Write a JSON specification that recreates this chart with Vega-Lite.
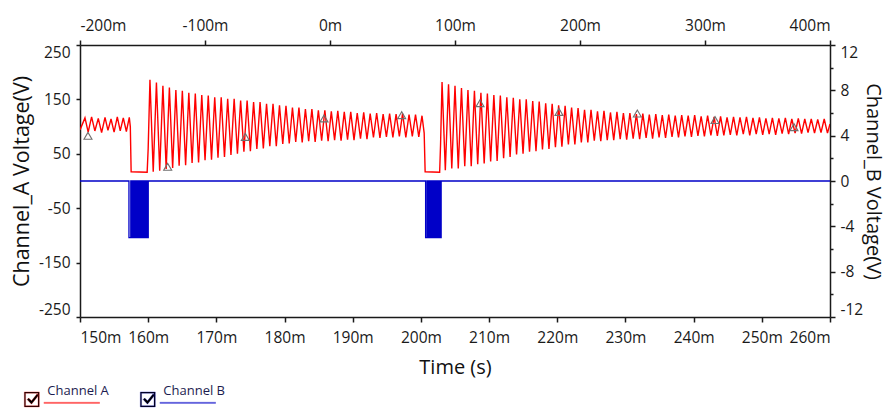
{
  "$schema": "https://vega.github.io/schema/vega-lite/v6.json",
  "width": 750,
  "height": 272,
  "autosize": {"type": "none"},
  "padding": {"left": 80, "top": 45, "right": 59, "bottom": 101},
  "background": "white",
  "config": {
    "view": {"stroke": null},
    "font": "Open Sans",
    "axis": {
      "labelFont": "Open Sans", "labelFontSize": 15.5, "labelColor": "#1a1a1a",
      "titleFont": "Open Sans", "titleFontSize": 20, "titleFontWeight": "normal", "titleColor": "#111111",
      "domainColor": "#1a1a1a", "domainWidth": 1.5, "tickColor": "#1a1a1a", "tickWidth": 1.5,
      "grid": false, "labelOverlap": false, "labelFlush": true
    }
  },
  "datasets": {
    "channel_a": [
      {"time_ms":150.0,"voltage":94},{"time_ms":150.73,"voltage":116},{"time_ms":151.2,"voltage":90},{"time_ms":151.7,"voltage":118},
      {"time_ms":152.18,"voltage":92},{"time_ms":152.68,"voltage":115},{"time_ms":153.17,"voltage":89},{"time_ms":153.67,"voltage":117},
      {"time_ms":154.1,"voltage":93},{"time_ms":154.55,"voltage":114},{"time_ms":155.0,"voltage":90},{"time_ms":155.47,"voltage":118},
      {"time_ms":155.9,"voltage":92},{"time_ms":156.35,"voltage":116},{"time_ms":156.8,"voltage":91},{"time_ms":157.23,"voltage":117},
      {"time_ms":157.38,"voltage":100},{"time_ms":157.5,"voltage":17},{"time_ms":159.85,"voltage":16},{"time_ms":160.0,"voltage":60},
      {"time_ms":160.26,"voltage":186},
      {"time_ms":160.74,"voltage":17},{"time_ms":161.21,"voltage":181},{"time_ms":161.69,"voltage":19},{"time_ms":162.16,"voltage":175},
      {"time_ms":162.64,"voltage":22},{"time_ms":163.11,"voltage":172},{"time_ms":163.59,"voltage":24},{"time_ms":164.06,"voltage":167},
      {"time_ms":164.54,"voltage":28},{"time_ms":165.01,"voltage":166},{"time_ms":165.49,"voltage":29},{"time_ms":165.96,"voltage":162},
      {"time_ms":166.44,"voltage":33},{"time_ms":166.91,"voltage":161},{"time_ms":167.39,"voltage":34},{"time_ms":167.86,"voltage":158},
      {"time_ms":168.34,"voltage":38},{"time_ms":168.81,"voltage":157},{"time_ms":169.29,"voltage":39},{"time_ms":169.76,"voltage":154},
      {"time_ms":170.24,"voltage":43},{"time_ms":170.71,"voltage":154},{"time_ms":171.19,"voltage":44},{"time_ms":171.66,"voltage":151},
      {"time_ms":172.14,"voltage":48},{"time_ms":172.61,"voltage":151},{"time_ms":173.09,"voltage":50},{"time_ms":173.56,"voltage":148},
      {"time_ms":174.04,"voltage":54},{"time_ms":174.51,"voltage":148},{"time_ms":174.99,"voltage":55},{"time_ms":175.46,"voltage":145},
      {"time_ms":175.94,"voltage":59},{"time_ms":176.41,"voltage":145},{"time_ms":176.89,"voltage":60},{"time_ms":177.36,"voltage":142},
      {"time_ms":177.84,"voltage":64},{"time_ms":178.31,"voltage":142},{"time_ms":178.79,"voltage":64},{"time_ms":179.26,"voltage":139},
      {"time_ms":179.74,"voltage":68},{"time_ms":180.21,"voltage":138},{"time_ms":180.69,"voltage":69},{"time_ms":181.16,"voltage":135},
      {"time_ms":181.64,"voltage":72},{"time_ms":182.11,"voltage":135},{"time_ms":182.59,"voltage":71},{"time_ms":183.06,"voltage":132},
      {"time_ms":183.54,"voltage":73},{"time_ms":184.01,"voltage":132},{"time_ms":184.49,"voltage":72},{"time_ms":184.96,"voltage":130},
      {"time_ms":185.44,"voltage":74},{"time_ms":185.91,"voltage":130},{"time_ms":186.39,"voltage":73},{"time_ms":186.86,"voltage":128},
      {"time_ms":187.34,"voltage":75},{"time_ms":187.81,"voltage":129},{"time_ms":188.29,"voltage":74},{"time_ms":188.76,"voltage":127},
      {"time_ms":189.24,"voltage":76},{"time_ms":189.71,"voltage":127},{"time_ms":190.19,"voltage":75},{"time_ms":190.66,"voltage":125},
      {"time_ms":191.14,"voltage":78},{"time_ms":191.61,"voltage":126},{"time_ms":192.09,"voltage":77},{"time_ms":192.56,"voltage":124},
      {"time_ms":193.04,"voltage":80},{"time_ms":193.51,"voltage":125},{"time_ms":193.99,"voltage":79},{"time_ms":194.46,"voltage":123},
      {"time_ms":194.94,"voltage":81},{"time_ms":195.41,"voltage":124},{"time_ms":195.89,"voltage":80},{"time_ms":196.36,"voltage":123},
      {"time_ms":196.84,"voltage":82},{"time_ms":197.31,"voltage":124},{"time_ms":197.79,"voltage":80},{"time_ms":198.26,"voltage":122},
      {"time_ms":198.74,"voltage":82},{"time_ms":199.21,"voltage":122},{"time_ms":199.69,"voltage":81},{"time_ms":200.16,"voltage":120},
      {"time_ms":200.48,"voltage":88},{"time_ms":200.62,"voltage":17},{"time_ms":202.75,"voltage":16},{"time_ms":202.88,"voltage":66},
      {"time_ms":203.1,"voltage":182},
      {"time_ms":203.58,"voltage":20},{"time_ms":204.05,"voltage":178},{"time_ms":204.53,"voltage":23},{"time_ms":205.0,"voltage":175},
      {"time_ms":205.48,"voltage":23},{"time_ms":205.95,"voltage":171},{"time_ms":206.43,"voltage":27},{"time_ms":206.9,"voltage":167},
      {"time_ms":207.38,"voltage":27},{"time_ms":207.85,"voltage":166},{"time_ms":208.33,"voltage":31},{"time_ms":208.8,"voltage":162},
      {"time_ms":209.28,"voltage":32},{"time_ms":209.75,"voltage":161},{"time_ms":210.23,"voltage":36},{"time_ms":210.7,"voltage":158},
      {"time_ms":211.18,"voltage":37},{"time_ms":211.65,"voltage":157},{"time_ms":212.13,"voltage":42},{"time_ms":212.6,"voltage":154},
      {"time_ms":213.08,"voltage":44},{"time_ms":213.55,"voltage":153},{"time_ms":214.03,"voltage":49},{"time_ms":214.5,"voltage":150},
      {"time_ms":214.98,"voltage":50},{"time_ms":215.45,"voltage":150},{"time_ms":215.93,"voltage":54},{"time_ms":216.4,"voltage":147},
      {"time_ms":216.88,"voltage":55},{"time_ms":217.35,"voltage":146},{"time_ms":217.83,"voltage":58},{"time_ms":218.3,"voltage":143},
      {"time_ms":218.78,"voltage":59},{"time_ms":219.25,"voltage":142},{"time_ms":219.73,"voltage":62},{"time_ms":220.2,"voltage":139},
      {"time_ms":220.68,"voltage":63},{"time_ms":221.15,"voltage":138},{"time_ms":221.63,"voltage":67},{"time_ms":222.1,"voltage":135},
      {"time_ms":222.58,"voltage":67},{"time_ms":223.05,"voltage":134},{"time_ms":223.53,"voltage":71},{"time_ms":224.0,"voltage":131},
      {"time_ms":224.48,"voltage":71},{"time_ms":224.95,"voltage":131},{"time_ms":225.43,"voltage":74},{"time_ms":225.9,"voltage":128},
      {"time_ms":226.38,"voltage":73},{"time_ms":226.85,"voltage":129},{"time_ms":227.33,"voltage":75},{"time_ms":227.8,"voltage":126},
      {"time_ms":228.28,"voltage":75},{"time_ms":228.75,"voltage":127},{"time_ms":229.23,"voltage":77},{"time_ms":229.7,"voltage":125},
      {"time_ms":230.18,"voltage":76},{"time_ms":230.65,"voltage":125},{"time_ms":231.13,"voltage":78},{"time_ms":231.6,"voltage":123},
      {"time_ms":232.08,"voltage":77},{"time_ms":232.55,"voltage":124},{"time_ms":233.03,"voltage":79},{"time_ms":233.5,"voltage":122},
      {"time_ms":233.98,"voltage":78},{"time_ms":234.45,"voltage":123},{"time_ms":234.93,"voltage":80},{"time_ms":235.4,"voltage":121},
      {"time_ms":235.88,"voltage":79},{"time_ms":236.35,"voltage":122},{"time_ms":236.83,"voltage":81},{"time_ms":237.3,"voltage":120},
      {"time_ms":237.78,"voltage":80},{"time_ms":238.25,"voltage":121},{"time_ms":238.73,"voltage":82},{"time_ms":239.2,"voltage":120},
      {"time_ms":239.68,"voltage":81},{"time_ms":240.15,"voltage":121},{"time_ms":240.63,"voltage":83},{"time_ms":241.1,"voltage":119},
      {"time_ms":241.58,"voltage":82},{"time_ms":242.05,"voltage":120},{"time_ms":242.53,"voltage":84},{"time_ms":243.0,"voltage":118},
      {"time_ms":243.48,"voltage":83},{"time_ms":243.95,"voltage":119},{"time_ms":244.43,"voltage":84},{"time_ms":244.9,"voltage":117},
      {"time_ms":245.38,"voltage":85},{"time_ms":245.85,"voltage":118},{"time_ms":246.33,"voltage":84},{"time_ms":246.8,"voltage":117},
      {"time_ms":247.28,"voltage":86},{"time_ms":247.75,"voltage":118},{"time_ms":248.23,"voltage":84},{"time_ms":248.7,"voltage":116},
      {"time_ms":249.18,"voltage":86},{"time_ms":249.65,"voltage":117},{"time_ms":250.13,"voltage":85},{"time_ms":250.6,"voltage":115},
      {"time_ms":251.08,"voltage":86},{"time_ms":251.55,"voltage":116},{"time_ms":252.03,"voltage":85},{"time_ms":252.5,"voltage":115},
      {"time_ms":252.98,"voltage":87},{"time_ms":253.45,"voltage":116},{"time_ms":253.93,"voltage":86},{"time_ms":254.4,"voltage":114},
      {"time_ms":254.88,"voltage":88},{"time_ms":255.35,"voltage":115},{"time_ms":255.83,"voltage":87},{"time_ms":256.3,"voltage":114},
      {"time_ms":256.78,"voltage":89},{"time_ms":257.25,"voltage":114},{"time_ms":257.73,"voltage":88},{"time_ms":258.2,"voltage":113},
      {"time_ms":258.68,"voltage":89},{"time_ms":259.15,"voltage":114},{"time_ms":259.63,"voltage":88},{"time_ms":260.0,"voltage":105}
    ],
    "channel_b": [
      {"time_ms":150.0,"voltage":0},{"time_ms":157.18,"voltage":0},{"time_ms":157.18,"voltage":-5},{"time_ms":157.45,"voltage":-5},{"time_ms":157.45,"voltage":0},
      {"time_ms":157.53,"voltage":0},{"time_ms":157.53,"voltage":-5},{"time_ms":157.61,"voltage":-5},{"time_ms":157.61,"voltage":0},
      {"time_ms":157.69,"voltage":0},{"time_ms":157.69,"voltage":-5},{"time_ms":157.77,"voltage":-5},{"time_ms":157.77,"voltage":0},
      {"time_ms":157.85,"voltage":0},{"time_ms":157.85,"voltage":-5},{"time_ms":157.93,"voltage":-5},{"time_ms":157.93,"voltage":0},
      {"time_ms":158.01,"voltage":0},{"time_ms":158.01,"voltage":-5},{"time_ms":158.09,"voltage":-5},{"time_ms":158.09,"voltage":0},
      {"time_ms":158.17,"voltage":0},{"time_ms":158.17,"voltage":-5},{"time_ms":158.25,"voltage":-5},{"time_ms":158.25,"voltage":0},
      {"time_ms":158.33,"voltage":0},{"time_ms":158.33,"voltage":-5},{"time_ms":158.41,"voltage":-5},{"time_ms":158.41,"voltage":0},
      {"time_ms":158.49,"voltage":0},{"time_ms":158.49,"voltage":-5},{"time_ms":158.57,"voltage":-5},{"time_ms":158.57,"voltage":0},
      {"time_ms":158.65,"voltage":0},{"time_ms":158.65,"voltage":-5},{"time_ms":158.73,"voltage":-5},{"time_ms":158.73,"voltage":0},
      {"time_ms":158.81,"voltage":0},{"time_ms":158.81,"voltage":-5},{"time_ms":158.89,"voltage":-5},{"time_ms":158.89,"voltage":0},
      {"time_ms":158.97,"voltage":0},{"time_ms":158.97,"voltage":-5},{"time_ms":159.05,"voltage":-5},{"time_ms":159.05,"voltage":0},
      {"time_ms":159.13,"voltage":0},{"time_ms":159.13,"voltage":-5},{"time_ms":159.21,"voltage":-5},{"time_ms":159.21,"voltage":0},
      {"time_ms":159.29,"voltage":0},{"time_ms":159.29,"voltage":-5},{"time_ms":159.37,"voltage":-5},{"time_ms":159.37,"voltage":0},
      {"time_ms":159.45,"voltage":0},{"time_ms":159.45,"voltage":-5},{"time_ms":159.53,"voltage":-5},{"time_ms":159.53,"voltage":0},
      {"time_ms":159.61,"voltage":0},{"time_ms":159.61,"voltage":-5},{"time_ms":159.69,"voltage":-5},{"time_ms":159.69,"voltage":0},
      {"time_ms":159.77,"voltage":0},{"time_ms":159.77,"voltage":-5},{"time_ms":159.85,"voltage":-5},{"time_ms":159.85,"voltage":0},
      {"time_ms":159.93,"voltage":0},{"time_ms":159.93,"voltage":-5},{"time_ms":160.01,"voltage":-5},{"time_ms":160.01,"voltage":0},
      {"time_ms":200.69,"voltage":0},{"time_ms":200.69,"voltage":-5},{"time_ms":200.9,"voltage":-5},{"time_ms":200.9,"voltage":0},
      {"time_ms":200.97,"voltage":0},{"time_ms":200.97,"voltage":-5},{"time_ms":201.05,"voltage":-5},{"time_ms":201.05,"voltage":0},
      {"time_ms":201.13,"voltage":0},{"time_ms":201.13,"voltage":-5},{"time_ms":201.21,"voltage":-5},{"time_ms":201.21,"voltage":0},
      {"time_ms":201.29,"voltage":0},{"time_ms":201.29,"voltage":-5},{"time_ms":201.37,"voltage":-5},{"time_ms":201.37,"voltage":0},
      {"time_ms":201.45,"voltage":0},{"time_ms":201.45,"voltage":-5},{"time_ms":201.53,"voltage":-5},{"time_ms":201.53,"voltage":0},
      {"time_ms":201.61,"voltage":0},{"time_ms":201.61,"voltage":-5},{"time_ms":201.69,"voltage":-5},{"time_ms":201.69,"voltage":0},
      {"time_ms":201.77,"voltage":0},{"time_ms":201.77,"voltage":-5},{"time_ms":201.85,"voltage":-5},{"time_ms":201.85,"voltage":0},
      {"time_ms":201.93,"voltage":0},{"time_ms":201.93,"voltage":-5},{"time_ms":202.01,"voltage":-5},{"time_ms":202.01,"voltage":0},
      {"time_ms":202.09,"voltage":0},{"time_ms":202.09,"voltage":-5},{"time_ms":202.17,"voltage":-5},{"time_ms":202.17,"voltage":0},
      {"time_ms":202.25,"voltage":0},{"time_ms":202.25,"voltage":-5},{"time_ms":202.33,"voltage":-5},{"time_ms":202.33,"voltage":0},
      {"time_ms":202.41,"voltage":0},{"time_ms":202.41,"voltage":-5},{"time_ms":202.49,"voltage":-5},{"time_ms":202.49,"voltage":0},
      {"time_ms":202.57,"voltage":0},{"time_ms":202.57,"voltage":-5},{"time_ms":202.65,"voltage":-5},{"time_ms":202.65,"voltage":0},
      {"time_ms":202.73,"voltage":0},{"time_ms":202.73,"voltage":-5},{"time_ms":202.81,"voltage":-5},{"time_ms":202.81,"voltage":0},
      {"time_ms":202.89,"voltage":0},{"time_ms":202.89,"voltage":-5},{"time_ms":202.97,"voltage":-5},{"time_ms":202.97,"voltage":0},
      {"time_ms":260.0,"voltage":0}
    ],
    "markers": [
      {"time_ms":151.17,"voltage":83},{"time_ms":162.86,"voltage":26},{"time_ms":174.25,"voltage":81},{"time_ms":185.79,"voltage":115},
      {"time_ms":197.18,"voltage":121},{"time_ms":208.67,"voltage":143},{"time_ms":220.25,"voltage":127},{"time_ms":231.74,"voltage":124},
      {"time_ms":243.14,"voltage":112},{"time_ms":254.72,"voltage":99}
    ],
    "top_axis": [
      {"offset_ms": -200}, {"offset_ms": 400}
    ]
  },
  "layer": [
    {
      "layer": [
        {
          "data": {"name": "channel_a"},
          "mark": {"type": "line", "strokeWidth": 1.4, "clip": true},
          "encoding": {
            "x": {
              "field": "time_ms", "type": "quantitative",
              "scale": {"domain": [150, 260], "nice": false, "zero": false},
              "axis": {
                "orient": "bottom", "title": "Time (s)",
                "values": [150,160,170,180,190,200,210,220,230,240,250,260],
                "labelExpr": "datum.value + 'm'",
                "tickSize": 5, "labelPadding": 8, "titlePadding": 12
              }
            },
            "y": {
              "field": "voltage", "type": "quantitative",
              "scale": {"domain": [-250, 250], "nice": false, "zero": false},
              "axis": {
                "orient": "left", "title": "Channel_A Voltage(V)", "titleFontSize": 21.5,
                "values": [-250,-200,-150,-100,-50,0,50,100,150,200,250],
                "labelExpr": "(abs(datum.value) % 100 == 50 || datum.value == 0) ? '' + datum.value : ''",
                "tickSize": {"condition": {"test": "abs(datum.value) % 100 == 50 || datum.value == 0", "value": 4}, "value": 2},
                "labelPadding": 6, "titlePadding": 5
              }
            },
            "color": {
              "datum": "Channel A",
              "scale": {"domain": ["Channel A", "Channel B"], "range": ["#ff0000", "#0000c8"]},
              "legend": {
                "orient": "none", "legendX": -62.2, "legendY": 339, "direction": "horizontal",
                "title": null, "padding": 0,
                "symbolType": "M0,1H15V16H0ZM1.3,2.3V14.7H13.7V2.3ZM2.8,8.6L4.4,7L7.2,9.8L12.8,2.8L14.4,4.4L7.2,13.2ZM19.5,11.3H75.5M19.5,11.6H75.5M19.5,11.9H75.5M19.5,12.2H75.5M19.5,12.5H75.5",
                "symbolSize": 4, "symbolStrokeWidth": 0.3, "symbolFillColor": "#000000",
                "labelFont": "Open Sans", "labelFontSize": 13, "labelColor": "#1c1c50",
                "labelOffset": 16.5, "columnPadding": 24, "labelLimit": 0
              }
            }
          }
        },
        {
          "data": {"name": "markers"},
          "mark": {"type": "point", "shape": "triangle-up", "size": 64, "filled": false, "stroke": "#707070", "strokeWidth": 1.1, "opacity": 1, "clip": true},
          "encoding": {
            "x": {"field": "time_ms", "type": "quantitative", "scale": {"domain": [150, 260], "nice": false, "zero": false}},
            "y": {"field": "voltage", "type": "quantitative", "scale": {"domain": [-250, 250], "nice": false, "zero": false}}
          }
        }
      ]
    },
    {
      "data": {"name": "channel_b"},
      "mark": {"type": "line", "strokeWidth": 1.3, "clip": true},
      "encoding": {
        "x": {"field": "time_ms", "type": "quantitative", "scale": {"domain": [150, 260], "nice": false, "zero": false}, "axis": null},
        "y": {
          "field": "voltage", "type": "quantitative",
          "scale": {"domain": [-12, 12], "nice": false, "zero": false},
          "axis": {
            "orient": "right", "title": "Channel_B Voltage(V)", "titleFontSize": 20,
            "values": [-12,-10,-8,-6,-4,-2,0,2,4,6,8,10,12],
            "labelExpr": "datum.value % 4 == 0 ? '' + datum.value : ''",
            "tickSize": {"condition": {"test": "datum.value % 4 == 0", "value": 5}, "value": 3},
            "labelPadding": 5, "titlePadding": 0
          }
        },
        "color": {"datum": "Channel B"}
      }
    },
    {
      "data": {"name": "top_axis"},
      "mark": {"type": "rule", "opacity": 0},
      "encoding": {
        "x": {
          "field": "offset_ms", "type": "quantitative",
          "scale": {"domain": [-200, 400], "nice": false, "zero": false},
          "axis": {
            "orient": "top", "title": null,
            "values": [-200,-100,0,100,200,300,400],
            "labelExpr": "datum.value + 'm'",
            "tickSize": 5, "labelPadding": 7
          }
        }
      }
    }
  ],
  "resolve": {"scale": {"x": "independent", "y": "independent"}}
}
